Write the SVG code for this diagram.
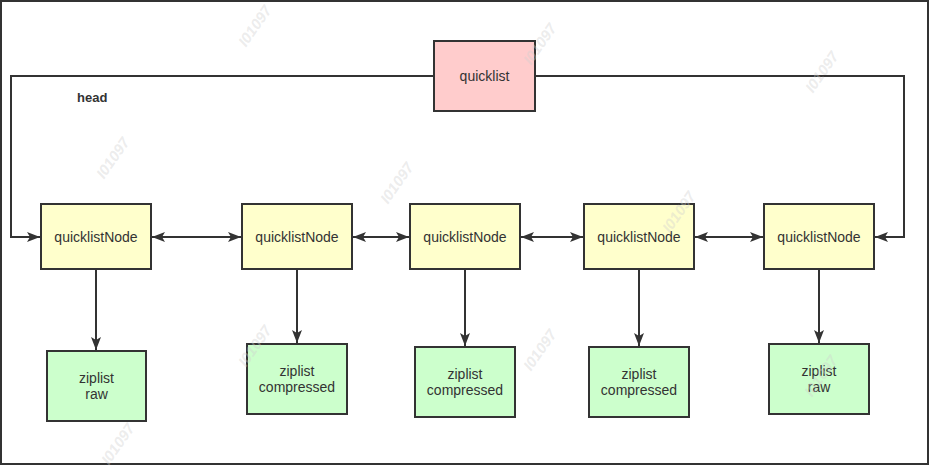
<svg xmlns="http://www.w3.org/2000/svg" width="930" height="466" viewBox="0 0 930 466">
<style>
.frame{fill:#ffffff;stroke:#333333;stroke-width:2}
.ql{fill:#ffcccc;stroke:#333333;stroke-width:2}
.qn{fill:#ffffcc;stroke:#333333;stroke-width:2}
.zl{fill:#ccffcc;stroke:#333333;stroke-width:2}
.t{font-family:"Liberation Sans",Arial,sans-serif;font-size:14px;fill:#333333;text-anchor:middle}
.hd{font-family:"Liberation Sans",Arial,sans-serif;font-size:13px;font-weight:bold;fill:#333333}
.c{fill:none;stroke:#333333;stroke-width:2}
.wm{font-family:"Liberation Sans",Arial,sans-serif;font-size:15px;font-weight:bold;font-style:italic;fill:#cfcfcf;fill-opacity:0.4;text-anchor:middle}
</style>
<defs>
<marker id="arr" viewBox="0 0 13 10" refX="13" refY="5" markerWidth="13" markerHeight="10" markerUnits="userSpaceOnUse" orient="auto-start-reverse">
<path d="M0,0 L13,5 L0,10 L3,5 Z" fill="#333333"/>
</marker>
</defs>
<rect class="frame" x="1" y="1" width="927" height="463"/>
<g id="connectors">
<path class="c" d="M434,76 H11 V237 H40" marker-end="url(#arr)"/>
<path class="c" d="M535,76 H904 V237 H875" marker-end="url(#arr)"/>
<path class="c" d="M152,237 H241" marker-start="url(#arr)" marker-end="url(#arr)"/>
<path class="c" d="M353,237 H409" marker-start="url(#arr)" marker-end="url(#arr)"/>
<path class="c" d="M521,237 H583" marker-start="url(#arr)" marker-end="url(#arr)"/>
<path class="c" d="M695,237 H763" marker-start="url(#arr)" marker-end="url(#arr)"/>
<path class="c" d="M96,270 V350" marker-end="url(#arr)"/>
<path class="c" d="M297,270 V343" marker-end="url(#arr)"/>
<path class="c" d="M465,270 V346" marker-end="url(#arr)"/>
<path class="c" d="M639,270 V346" marker-end="url(#arr)"/>
<path class="c" d="M819,270 V343" marker-end="url(#arr)"/>
<text class="hd" x="77" y="102">head</text>
</g>
<g id="quicklist">
<rect class="ql" x="434" y="41" width="101" height="70"/>
<text class="t" x="484.5" y="81">quicklist</text>
</g>
<g id="node1">
<rect class="qn" x="41" y="204" width="110" height="65"/>
<text class="t" x="96" y="242">quicklistNode</text>
</g>
<g id="node2">
<rect class="qn" x="242" y="204" width="110" height="65"/>
<text class="t" x="297" y="242">quicklistNode</text>
</g>
<g id="node3">
<rect class="qn" x="410" y="204" width="110" height="65"/>
<text class="t" x="465" y="242">quicklistNode</text>
</g>
<g id="node4">
<rect class="qn" x="584" y="204" width="110" height="65"/>
<text class="t" x="639" y="242">quicklistNode</text>
</g>
<g id="node5">
<rect class="qn" x="764" y="204" width="110" height="65"/>
<text class="t" x="819" y="242">quicklistNode</text>
</g>
<g id="zip1">
<rect class="zl" x="47" y="351" width="99" height="70"/>
<text class="t" x="96.5" y="383">ziplist</text>
<text class="t" x="96.5" y="399">raw</text>
</g>
<g id="zip2">
<rect class="zl" x="247" y="344" width="100" height="70"/>
<text class="t" x="297" y="376">ziplist</text>
<text class="t" x="297" y="392">compressed</text>
</g>
<g id="zip3">
<rect class="zl" x="415" y="347" width="100" height="70"/>
<text class="t" x="465" y="379">ziplist</text>
<text class="t" x="465" y="395">compressed</text>
</g>
<g id="zip4">
<rect class="zl" x="589" y="347" width="100" height="70"/>
<text class="t" x="639" y="379">ziplist</text>
<text class="t" x="639" y="395">compressed</text>
</g>
<g id="zip5">
<rect class="zl" x="769" y="344" width="100" height="70"/>
<text class="t" x="819" y="376">ziplist</text>
<text class="t" x="819" y="392">raw</text>
</g>
<g id="watermarks">
<text class="wm" transform="translate(255,26) rotate(-55)" y="5">I01097</text>
<text class="wm" transform="translate(540,44) rotate(-55)" y="5">I01097</text>
<text class="wm" transform="translate(822,72) rotate(-55)" y="5">I01097</text>
<text class="wm" transform="translate(113,158) rotate(-55)" y="5">I01097</text>
<text class="wm" transform="translate(397,183) rotate(-55)" y="5">I01097</text>
<text class="wm" transform="translate(679,212) rotate(-55)" y="5">I01097</text>
<text class="wm" transform="translate(255,346) rotate(-55)" y="5">I01097</text>
<text class="wm" transform="translate(540,350) rotate(-55)" y="5">I01097</text>
<text class="wm" transform="translate(821,376) rotate(-55)" y="5">I01097</text>
<text class="wm" transform="translate(118,444) rotate(-55)" y="5">I01097</text>
</g>
</svg>
